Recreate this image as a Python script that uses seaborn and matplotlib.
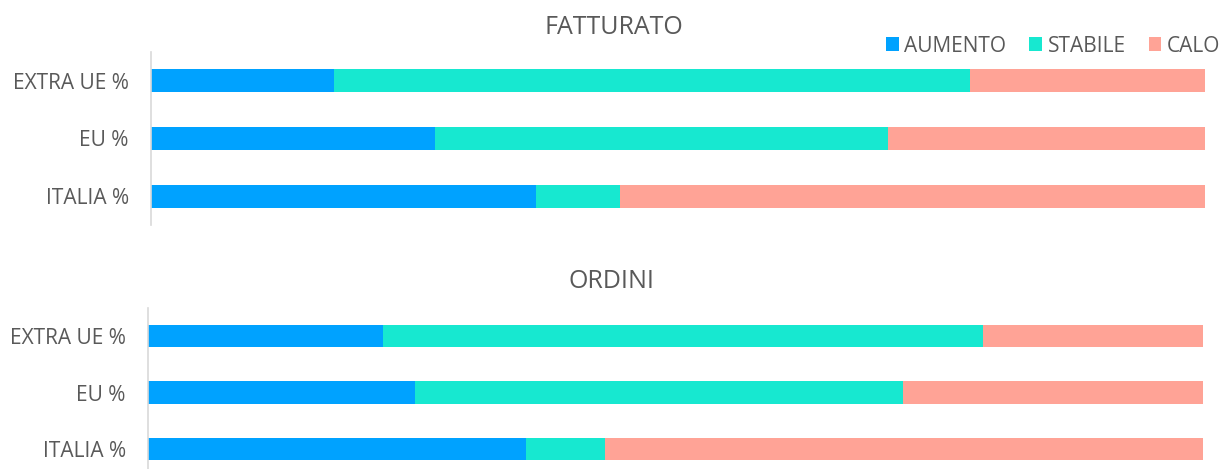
import matplotlib
matplotlib.use("Agg")
import matplotlib.pyplot as plt
import pandas as pd
import seaborn as sns
from matplotlib.patches import Patch

# categories (top to bottom) and series
regions = ["EXTRA UE %", "EU %", "ITALIA %"]
series = ["AUMENTO", "STABILE", "CALO"]
colors = ["#00A2FF", "#17E8D0", "#FFA396"]

# FATTURATO (%)
fatturato_aumento = [17.4, 26.9, 36.5]
fatturato_stabile = [60.3, 43.0, 8.0]
fatturato_calo = [22.3, 30.1, 55.5]

# ORDINI (%)
ordini_aumento = [22.3, 25.3, 35.8]
ordini_stabile = [56.8, 46.3, 7.5]
ordini_calo = [20.9, 28.4, 56.7]

TEXT = "#595959"

sns.set_theme(style="white")
plt.rcParams["font.family"] = ["Open Sans", "DejaVu Sans"]


def draw_stacked(ax, aumento, stabile, calo):
    df = pd.DataFrame({"regione": regions, "AUMENTO": aumento,
                       "STABILE": stabile, "CALO": calo})
    # cumulative layers, drawn from the longest to the shortest
    cum = df[series].cumsum(axis=1)
    for name, col in reversed(list(zip(series, colors))):
        sns.barplot(x=cum[name], y=df["regione"], orient="h", color=col,
                    saturation=1, width=0.4, linewidth=0, ax=ax)
    ax.set_xlim(0, 100)
    ax.set_xlabel("")
    ax.set_ylabel("")
    ax.set_xticks([])
    for s in ["top", "right", "bottom"]:
        ax.spines[s].set_visible(False)
    ax.spines["left"].set_color("#D9D9D9")
    ax.spines["left"].set_linewidth(1.2)
    ax.tick_params(axis="y", length=0, pad=16, labelsize=15, labelcolor=TEXT)


W, H = 1224, 469
fig = plt.figure(figsize=(W / 100, H / 100), dpi=100)

ax1 = fig.add_axes([151 / W, 1 - 225 / H, (1205 - 151) / W, (225 - 52) / H])
draw_stacked(ax1, fatturato_aumento, fatturato_stabile, fatturato_calo)

ax2 = fig.add_axes([148 / W, 1 - 477 / H, (1203 - 148) / W, (477 - 308) / H])
draw_stacked(ax2, ordini_aumento, ordini_stabile, ordini_calo)

fig.text(614 / W, 1 - 28 / H, "FATTURATO", ha="center", va="center",
         fontsize=18, color=TEXT)
fig.text(612 / W, 1 - 281 / H, "ORDINI", ha="center", va="center",
         fontsize=18, color=TEXT)

handles = [Patch(facecolor=c, edgecolor="none", label=s) for s, c in zip(series, colors)]
fig.legend(handles=handles, loc="center right", bbox_to_anchor=(1220 / W, 1 - 46 / H),
           ncol=3, frameon=False, fontsize=15, handlelength=0.62, handleheight=0.62,
           handletextpad=0.25, columnspacing=1.1, borderpad=0, borderaxespad=0,
           labelcolor=TEXT)

fig.savefig("out.png", dpi=100, facecolor="white")
